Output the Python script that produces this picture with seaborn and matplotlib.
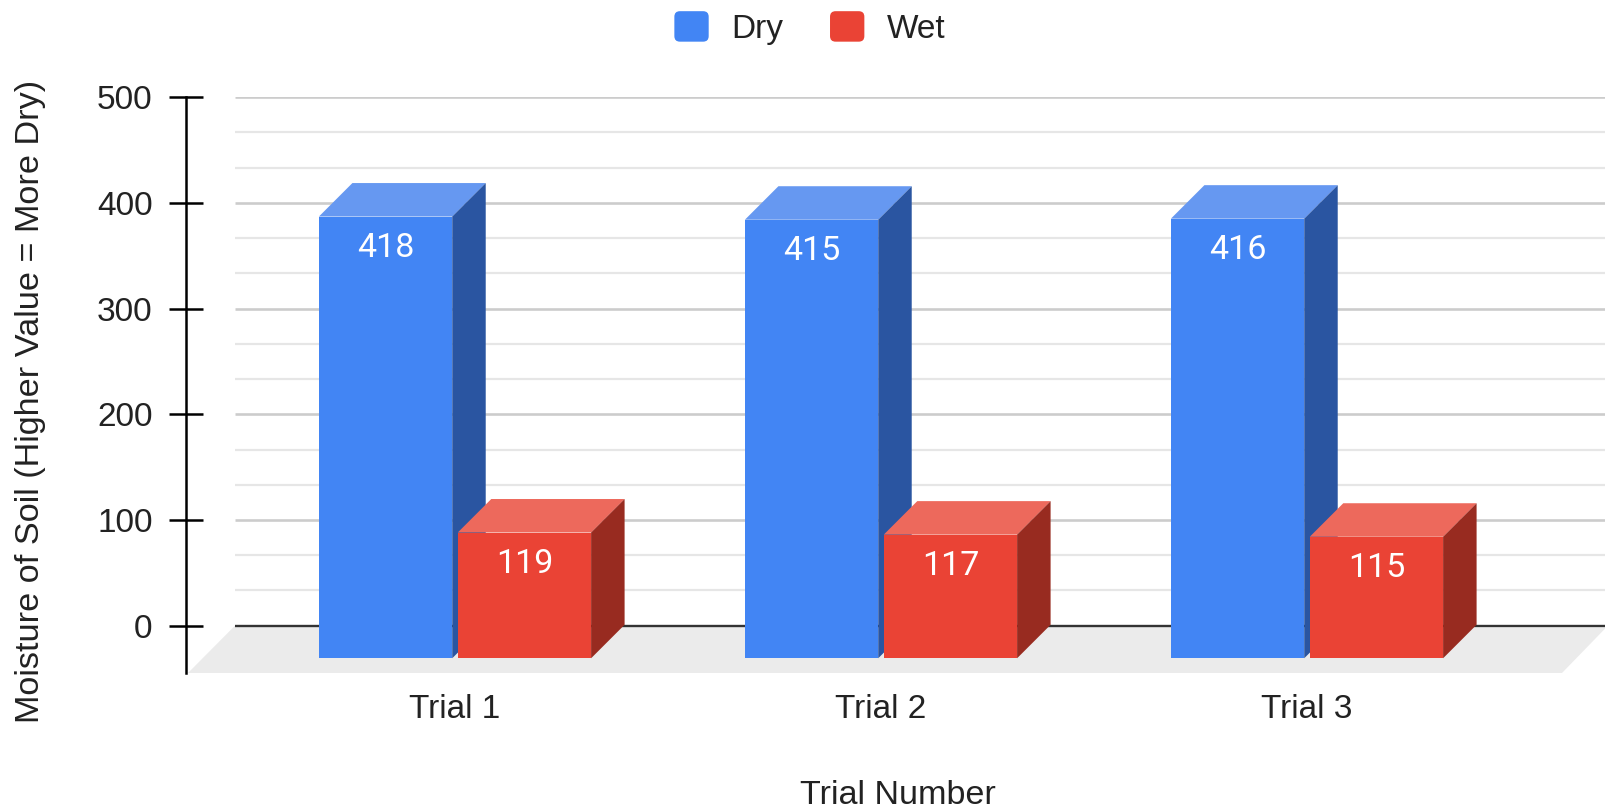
import matplotlib
matplotlib.use("Agg")
import matplotlib.pyplot as plt
import pandas as pd
import seaborn as sns
from matplotlib.patches import FancyBboxPatch, Patch, Polygon
from matplotlib.legend_handler import HandlerPatch

trials = ["Trial 1", "Trial 2", "Trial 3"]
dry_values = [418, 415, 416]
wet_values = [119, 117, 115]
series_names = ["Dry", "Wet"]
y_ticks = [0, 100, 200, 300, 400, 500]
minor_y_ticks = [33.3, 66.7, 133.3, 166.7, 233.3, 266.7, 333.3, 366.7, 433.3, 466.7]

front_colors = {"Dry": "#4285f4", "Wet": "#ea4335"}
top_colors = {"Dry": "#6698f1", "Wet": "#ed695c"}
side_colors = {"Dry": "#2a55a1", "Wet": "#982b20"}

W, H = 1606, 808
AX_LEFT, AX_RIGHT, AX_TOP, AX_BOTTOM = 186.5, 1606, 97.3, 673
Y_MIN = -44.8
DEPTH_PX = 33.5
BASE_OFFSET_PX = 32.6
GRID_START_PX = 235

sns.set_theme(style="white")
plt.rcParams["font.family"] = ["Liberation Sans", "DejaVu Sans"]

fig = plt.figure(figsize=(W / 100, H / 100), dpi=100)
ax = fig.add_axes([AX_LEFT / W, 1 - AX_BOTTOM / H,
                   (AX_RIGHT - AX_LEFT) / W, (AX_BOTTOM - AX_TOP) / H])

x_per_px = 1 / 426
y_per_px = (500 - Y_MIN) / (AX_BOTTOM - AX_TOP)
x_lim = (-(455 - AX_LEFT) * x_per_px, (AX_RIGHT - 455) * x_per_px)
grid_start = x_lim[0] + (GRID_START_PX - AX_LEFT) * x_per_px
depth_x, depth_y = DEPTH_PX * x_per_px, DEPTH_PX * y_per_px
base = -BASE_OFFSET_PX * y_per_px

table = pd.DataFrame({
    "trial": trials * 2,
    "series": [series_names[0]] * 3 + [series_names[1]] * 3,
    "moisture": dry_values + wet_values,
})

# Floor of the 3D scene, lying under the zero line
floor = Polygon(
    [(grid_start, 0), (x_lim[0] + 1.5 * x_per_px, Y_MIN),
     (x_lim[1] - 44 * x_per_px, Y_MIN), (x_lim[1], -2 * y_per_px)],
    closed=True, facecolor="#ebebeb", edgecolor="none", zorder=0.4,
)
ax.add_patch(floor)

ax.hlines(minor_y_ticks, grid_start, x_lim[1], color="#e6e6e6", lw=1.6, zorder=0.5)
ax.hlines([t for t in y_ticks if t], grid_start, x_lim[1], color="#cccccc", lw=1.9, zorder=0.6)
ax.hlines(0, grid_start, x_lim[1], color="#333333", lw=1.7, zorder=0.7)

sns.barplot(
    data=table, x="trial", y="moisture", hue="series", order=trials,
    hue_order=series_names, palette=front_colors, width=0.652, gap=0.04,
    bottom=base, saturation=1, legend=False, errorbar=None, ax=ax,
    linewidth=0,
)

# Extrude every bar with a top and a side face
for layer, (name, container) in enumerate(zip(series_names, ax.containers)):
    for bar in container:
        bar.set_zorder(2.1 + layer)
        x0, y0 = bar.get_x(), bar.get_y()
        x1, y1 = x0 + bar.get_width(), y0 + bar.get_height()
        ax.add_patch(Polygon(
            [(x0, y1), (x1, y1), (x1 + depth_x, y1 + depth_y), (x0 + depth_x, y1 + depth_y)],
            closed=True, facecolor=top_colors[name], edgecolor="none", zorder=2 + layer,
        ))
        ax.add_patch(Polygon(
            [(x1, y0), (x1, y1), (x1 + depth_x, y1 + depth_y), (x1 + depth_x, y0 + depth_y)],
            closed=True, facecolor=side_colors[name], edgecolor="none", zorder=2 + layer,
        ))
        ax.annotate(
            f"{bar.get_height():.0f}", (x0 + bar.get_width() / 2, y1),
            xytext=(0, -22.5), textcoords="offset points", ha="center", va="center",
            color="white", fontsize=24.5, family="Roboto", zorder=5,
        )

ax.set_xlim(x_lim)
ax.set_ylim(Y_MIN, 500)
ax.set_yticks(y_ticks)
ax.set_xticks(range(len(trials)), trials)
ax.tick_params(axis="y", direction="inout", length=23.8, width=1.8, color="black",
               labelsize=24, labelcolor="#222222", pad=12.5, left=True)
ax.tick_params(axis="x", length=0, labelsize=24, labelcolor="#222222", pad=15)
ax.grid(False)
for side in ("top", "right", "bottom"):
    ax.spines[side].set_visible(False)
ax.spines["left"].set_color("black")
ax.spines["left"].set_linewidth(1.8)

ax.set_xlabel("")
ax.set_ylabel("")
fig.text(898 / W, 1 - 795 / H, "Trial Number", ha="center", va="center",
         fontsize=24.6, color="#222222")
fig.text(31 / W, 1 - 401 / H, "Moisture of Soil (Higher Value = More Dry)", rotation=90,
         ha="center", va="center", fontsize=24.7, color="#222222")


def rounded_key(legend, orig_handle, xdescent, ydescent, width, height, fontsize):
    pad = 4
    return FancyBboxPatch(
        (pad - xdescent, pad - ydescent), width - 2 * pad, height - 2 * pad,
        boxstyle=f"round,pad={pad}", mutation_aspect=1,
    )


handles = [Patch(facecolor=front_colors[n], edgecolor="none", label=n) for n in series_names]
fig.legend(
    handles=handles, loc="center", bbox_to_anchor=(810 / W, 1 - 28 / H), ncol=2,
    frameon=False, fontsize=24, labelcolor="#222222", handlelength=1.03, handleheight=1.03,
    handletextpad=0.68, columnspacing=1.4, borderpad=0, borderaxespad=0,
    handler_map={Patch: HandlerPatch(patch_func=rounded_key)},
)

fig.savefig("out.png", dpi=100, facecolor="white")
